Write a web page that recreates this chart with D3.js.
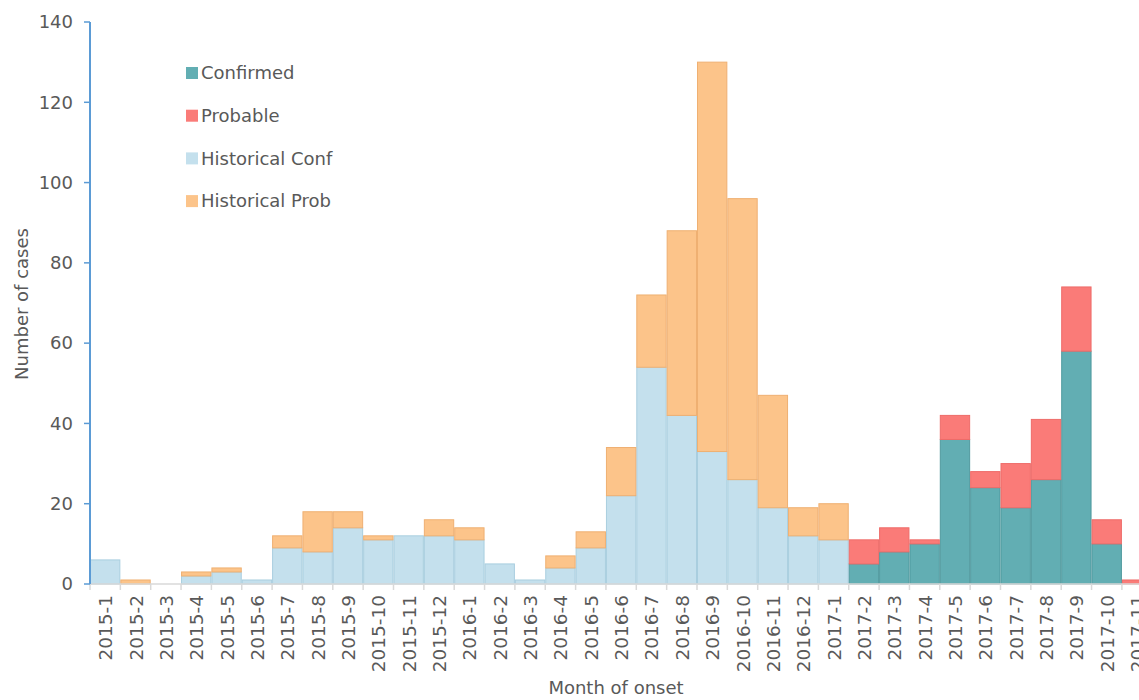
<!DOCTYPE html>
<html><head><meta charset="utf-8">
<script src="https://cdn.jsdelivr.net/npm/d3@7"></script>
<style>body{margin:0;background:#fff;overflow:hidden}svg{display:block}</style>
</head><body><svg id="c" width="1139" height="700"></svg>
<script>
const months = ["2015-1","2015-2","2015-3","2015-4","2015-5","2015-6","2015-7","2015-8","2015-9","2015-10","2015-11","2015-12",
"2016-1","2016-2","2016-3","2016-4","2016-5","2016-6","2016-7","2016-8","2016-9","2016-10","2016-11","2016-12",
"2017-1","2017-2","2017-3","2017-4","2017-5","2017-6","2017-7","2017-8","2017-9","2017-10","2017-11"];
const histConf = [6,0,0,2,3,1,9,8,14,11,12,12, 11,5,1,4,9,22,54,42,33,26,19,12, 11,0,0,0,0,0,0,0,0,0,0];
const histProb = [0,1,0,1,1,0,3,10,4,1,0,4, 3,0,0,3,4,12,18,46,97,70,28,7, 9,0,0,0,0,0,0,0,0,0,0];
const confirmed = [0,0,0,0,0,0,0,0,0,0,0,0, 0,0,0,0,0,0,0,0,0,0,0,0, 0,5,8,10,36,24,19,26,58,10,0];
const probable  = [0,0,0,0,0,0,0,0,0,0,0,0, 0,0,0,0,0,0,0,0,0,0,0,0, 0,6,6,1,6,4,11,15,16,6,1];
const seriesNames = ["Historical Conf","Historical Prob","Confirmed","Probable"];
const legendOrder = ["Confirmed","Probable","Historical Conf","Historical Prob"];
const yTicks = [0,20,40,60,80,100,120,140];

const colors = {"Confirmed":"#62aeb3","Probable":"#fa7b78","Historical Conf":"#c4e0ed","Historical Prob":"#fcc48a"};
const strokes = {"Confirmed":"#4f999e","Probable":"#ee6c69","Historical Conf":"#a9cedf","Historical Prob":"#efb072"};

const table = months.map((m,i)=>({month:m,"Historical Conf":histConf[i],"Historical Prob":histProb[i],"Confirmed":confirmed[i],"Probable":probable[i]}));
const stack = d3.stack().keys(seriesNames)(table);

const svg = d3.select("#c");
const font = "'DejaVu Sans', sans-serif";
const x = d3.scaleBand().domain(months).range([90, 90 + 35*30.35]).padding(0);
const y = d3.scaleLinear().domain([0,140]).range([584,22]);

const g = svg.append("g");
stack.forEach(s=>{
  g.append("g").selectAll("rect").data(s.filter(d=>d[1]-d[0]>0)).join("rect")
   .attr("x",d=>x(d.data.month)+0.5).attr("width",x.bandwidth()-1)
   .attr("y",d=>y(d[1])).attr("height",d=>y(d[0])-y(d[1]))
   .attr("fill",colors[s.key]).attr("stroke",strokes[s.key]).attr("stroke-width",1);
});

// x axis
const xa = svg.append("g").attr("transform","translate(0,584)");
xa.append("line").attr("x1",90).attr("x2",1139).attr("stroke","#d9d9d9").attr("stroke-width",1.5);
xa.selectAll("line.t").data(months.concat(["end"])).join("line").attr("class","t")
  .attr("x1",(d,i)=>x.range()[0]+i*x.bandwidth()).attr("x2",(d,i)=>x.range()[0]+i*x.bandwidth())
  .attr("y1",0).attr("y2",6).attr("stroke","#d9d9d9").attr("stroke-width",1.5);
xa.selectAll("text").data(months).join("text")
  .attr("transform",d=>`translate(${x(d)+x.bandwidth()/2+7},11) rotate(-90)`)
  .attr("text-anchor","end").attr("font-family",font).attr("font-size",18.5).attr("fill","#595959")
  .text(d=>d);

// y axis
const ya = svg.append("g");
ya.append("line").attr("x1",90).attr("x2",90).attr("y1",22).attr("y2",584).attr("stroke","#5b9bd5").attr("stroke-width",2);
ya.selectAll("line.t").data(yTicks).join("line").attr("class","t")
  .attr("x1",84).attr("x2",90).attr("y1",d=>y(d)).attr("y2",d=>y(d)).attr("stroke","#5b9bd5").attr("stroke-width",1.5);
ya.selectAll("text").data(yTicks).join("text")
  .attr("x",73).attr("y",d=>y(d)).attr("dy","0.35em").attr("text-anchor","end")
  .attr("font-family",font).attr("font-size",18).attr("fill","#595959").text(d=>d);

svg.append("text").attr("transform","translate(28,304) rotate(-90)").attr("text-anchor","middle")
  .attr("font-family",font).attr("font-size",18).attr("fill","#595959").text("Number of cases");
svg.append("text").attr("x",616).attr("y",694).attr("text-anchor","middle")
  .attr("font-family",font).attr("font-size",18).attr("fill","#595959").text("Month of onset");

// legend
const lg = svg.append("g");
legendOrder.forEach((k,i)=>{
  const cy = 73 + i*42.7;
  lg.append("rect").attr("x",186).attr("y",cy-6).attr("width",12).attr("height",12).attr("fill",colors[k]);
  lg.append("text").attr("x",201).attr("y",cy).attr("dy","0.35em").attr("font-family",font)
    .attr("font-size",18).attr("fill","#595959").text(k);
});
</script></body></html>
